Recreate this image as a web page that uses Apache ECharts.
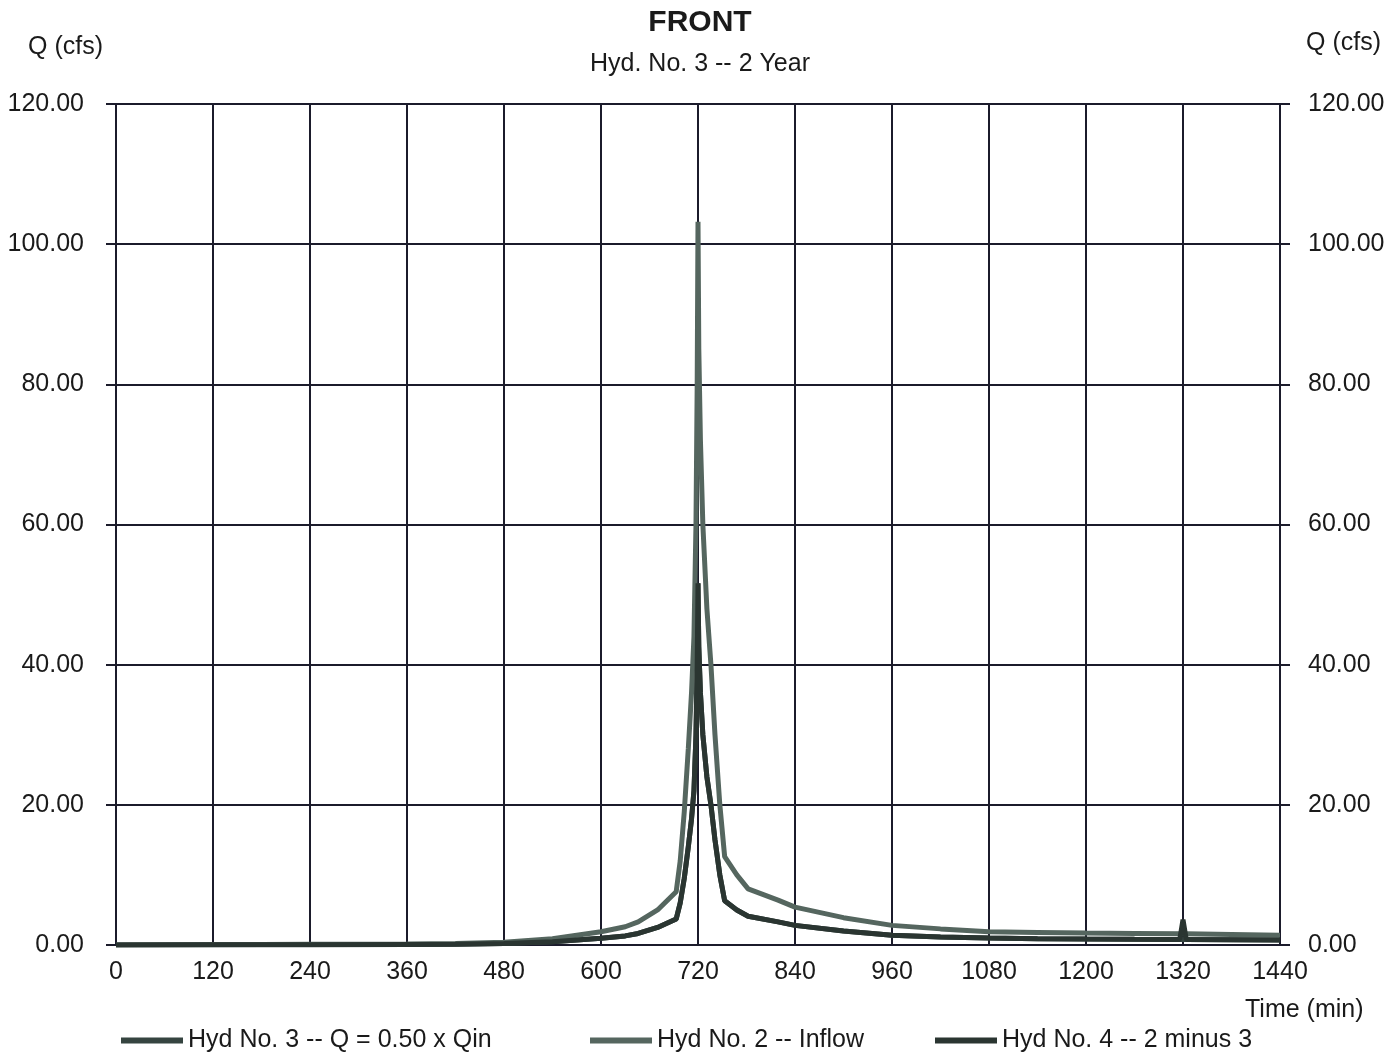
<!DOCTYPE html>
<html>
<head>
<meta charset="utf-8">
<title>FRONT</title>
<script src="https://cdn.jsdelivr.net/npm/echarts@6/dist/echarts.min.js"></script>
<style>
  html, body { margin: 0; padding: 0; background: #fff; }
  #chart_container { width: 1400px; height: 1052px; }
</style>
</head>
<body>
<div id="chart_container"></div>
<script>
// time (min)
const times = [0, 120, 240, 360, 420, 480, 540, 600, 630, 646, 670, 693, 698, 703, 708, 712, 715, 717.5, 719, 720,
  721, 723, 726, 731, 736, 741, 747, 753, 768, 782, 819, 840, 900, 960, 1020, 1080, 1140, 1200, 1260,
  1316, 1320, 1324, 1380, 1440];

// Hyd No. 2 -- Inflow
const inflow = [0.0, 0.05, 0.1, 0.15, 0.2, 0.4, 0.9, 1.9, 2.6, 3.3, 5.0, 7.6, 12, 19, 28, 36, 44, 60, 80, 103.2,
  85, 72, 60, 48, 40, 30, 20, 12.6, 10, 8.0, 6.4, 5.4, 3.9, 2.8, 2.3, 1.9, 1.8, 1.7, 1.65,
  1.6, 1.6, 1.6, 1.5, 1.4];

// Hyd No. 3 -- Q = 0.50 x Qin
const hyd3 = [0.0, 0.03, 0.05, 0.08, 0.1, 0.2, 0.45, 0.95, 1.3, 1.65, 2.5, 3.7, 6, 9.5, 14, 18, 22, 30, 40, 51.6,
  42.5, 36, 30, 24, 20, 15, 10, 6.3, 5, 4.1, 3.3, 2.8, 2.0, 1.4, 1.15, 1.0, 0.9, 0.85, 0.82,
  0.8, 0.8, 0.8, 0.75, 0.7];

// Hyd No. 4 -- 2 minus 3 (small blip near 1320 as printed)
const hyd4 = [0.0, 0.03, 0.05, 0.08, 0.1, 0.2, 0.45, 0.95, 1.3, 1.65, 2.5, 3.7, 6, 9.5, 14, 18, 22, 30, 40, 51.6,
  42.5, 36, 30, 24, 20, 15, 10, 6.3, 5, 4.1, 3.3, 2.8, 2.0, 1.4, 1.15, 1.0, 0.9, 0.85, 0.82,
  0.8, 3.6, 0.8, 0.75, 0.7];

const seriesNames = ['Hyd No. 3 -- Q = 0.50 x Qin', 'Hyd No. 2 -- Inflow', 'Hyd No. 4 -- 2 minus 3'];
const seriesColors = ['#354440', '#55665f', '#2a3531'];

const xTicks = { min: 0, max: 1440, interval: 120 };
const yTicks = { min: 0, max: 120, interval: 20 };

function pairs(vals) {
  return times.map((t, i) => [t, vals[i]]);
}

window.addEventListener("load", () => {
  let chart = echarts.init(document.getElementById("chart_container"), null, { renderer: 'canvas' });

  const font = '"Liberation Sans", Arial, sans-serif';
  const gridColor = '#1b1b2b';
  const textColor = '#1a1a1a';

  const yAxisBase = {
    type: 'value',
    min: yTicks.min,
    max: yTicks.max,
    interval: yTicks.interval,
    axisLine: { show: true, lineStyle: { color: gridColor, width: 2 } },
    axisTick: { show: true, inside: false, length: 10, lineStyle: { color: gridColor, width: 2 } },
    axisLabel: {
      color: textColor, fontSize: 25, fontFamily: font,
      formatter: (v) => v.toFixed(2)
    }
  };

  let option = {
    backgroundColor: '#fff',
    animation: false,
    title: [
      {
        text: 'FRONT', left: 'center', top: 3,
        textStyle: { fontSize: 30, fontWeight: 'bold', fontFamily: font, color: textColor }
      },
      {
        text: 'Hyd. No. 3 -- 2 Year', left: 'center', top: 47,
        textStyle: { fontSize: 25, fontWeight: 'normal', fontFamily: font, color: textColor }
      }
    ],
    legend: seriesNames.map((name, i) => ({
      data: [name],
      left: [116, 585, 930][i],
      top: 1023,
      itemWidth: 62,
      itemHeight: 6,
      itemGap: 10,
      icon: 'rect',
      textStyle: { fontSize: 25, fontFamily: font, color: textColor }
    })),
    graphic: [
      { type: 'text', left: 28, top: 35, style: { text: 'Q (cfs)', fontSize: 25, fontFamily: font, fill: textColor } },
      { type: 'text', left: 1306, top: 31, style: { text: 'Q (cfs)', fontSize: 25, fontFamily: font, fill: textColor } },
      { type: 'text', left: 1245, top: 998, style: { text: 'Time (min)', fontSize: 25, fontFamily: font, fill: textColor } }
    ],
    grid: { left: 116, right: 120, top: 104, bottom: 107, containLabel: false },
    xAxis: {
      type: 'value',
      min: xTicks.min,
      max: xTicks.max,
      interval: xTicks.interval,
      axisLine: { show: true, lineStyle: { color: gridColor, width: 2 } },
      axisTick: { show: false },
      axisLabel: { color: textColor, fontSize: 25, fontFamily: font, margin: 15, formatter: (v) => String(v) },
      splitLine: { show: true, lineStyle: { color: gridColor, width: 2 } }
    },
    yAxis: [
      Object.assign({}, yAxisBase, {
        position: 'left',
        axisLabel: Object.assign({}, yAxisBase.axisLabel, { margin: 32 }),
        splitLine: { show: true, lineStyle: { color: gridColor, width: 2 } }
      }),
      Object.assign({}, yAxisBase, {
        position: 'right',
        axisLabel: Object.assign({}, yAxisBase.axisLabel, { margin: 28 }),
        splitLine: { show: false }
      })
    ],
    series: [
      { name: seriesNames[0], type: 'line', data: pairs(hyd3) },
      { name: seriesNames[1], type: 'line', data: pairs(inflow) },
      { name: seriesNames[2], type: 'line', data: pairs(hyd4) }
    ].map((s, i) => Object.assign(s, {
      showSymbol: false,
      symbol: 'none',
      color: seriesColors[i],
      lineStyle: { color: seriesColors[i], width: 5 },
      z: 3 + i
    }))
  };

  chart.setOption(option);
  window.addEventListener('resize', chart.resize);
});
</script>
</body>
</html>
